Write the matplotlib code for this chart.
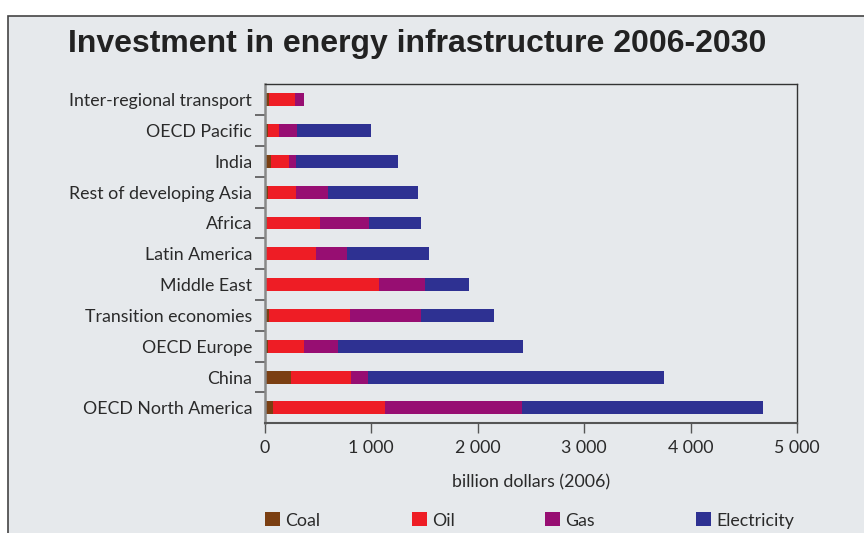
import numpy as np
import matplotlib.pyplot as plt
from matplotlib.patches import Rectangle

# regions, bottom to top as drawn
regions = ['OECD North America', 'China', 'OECD Europe', 'Transition economies',
           'Middle East', 'Latin America', 'Africa', 'Rest of developing Asia',
           'India', 'OECD Pacific', 'Inter-regional transport']

# billion dollars (2006)
coal = [78, 247, 28, 40, 8, 10, 20, 30, 61, 30, 42]
oil = [1054, 565, 342, 763, 1067, 474, 501, 266, 169, 106, 244]
gas = [1288, 160, 317, 667, 433, 291, 460, 297, 63, 169, 85]
electricity = [2258, 2775, 1743, 687, 414, 770, 485, 845, 957, 692, 0]

series = [('Coal', coal, '#7b3f12'), ('Oil', oil, '#ee1d25'),
          ('Gas', gas, '#970e72'), ('Electricity', electricity, '#2e3192')]

bg = '#e6e9ec'
font = 'Lato'
fs = 12.8

fig = plt.figure(figsize=(8.64, 5.33), dpi=100)
fig.patch.set_facecolor('white')
fig.patches.append(Rectangle((8 / 864, -0.1), 1.2, 1 - 16 / 533 + 0.1,
                             transform=fig.transFigure, facecolor=bg,
                             edgecolor='#444444', lw=1.2, zorder=-10))

ax = fig.add_axes([0.3064, 0.2058, 0.6161, 0.636])
ax.set_facecolor(bg)

y = np.arange(len(regions))
left = np.zeros(len(regions))
bars = []
for name, vals, col in series:
    bars.append(ax.barh(y, vals, left=left, height=0.42, color=col, label=name))
    left += np.array(vals)

ax.set_xlim(0, 5000)
ax.set_ylim(-0.5, len(regions) - 0.5)
ax.set_xticks(np.arange(0, 5001, 1000))
ax.set_xticklabels(['0', '1 000', '2 000', '3 000', '4 000', '5 000'],
                   fontfamily=font, fontsize=fs, color='#2a2a2a')
ax.set_yticks(y)
ax.set_yticklabels(regions, fontfamily=font, fontsize=fs, color='#2a2a2a')
ax.set_yticks(np.arange(0.5, len(regions) - 1, 1), minor=True)
ax.tick_params(axis='y', which='major', length=0, pad=9)
ax.tick_params(axis='y', which='minor', length=7, width=1.2, color='#555555')
ax.tick_params(axis='x', length=7, width=1, color='#555555', pad=5)

ax.spines['left'].set_color('#888888')
ax.spines['left'].set_linewidth(1.8)
ax.spines['bottom'].set_color('#555555')
ax.spines['bottom'].set_linewidth(1.5)
for s in ('top', 'right'):
    ax.spines[s].set_color('#333333')
    ax.spines[s].set_linewidth(1)

ax.set_xlabel('billion dollars (2006)', fontfamily=font, fontsize=fs,
              color='#2a2a2a', labelpad=13)

fig.text(0.483, 0.917, 'Investment in energy infrastructure 2006-2030',
         ha='center', va='center', fontfamily='Liberation Sans',
         fontweight='bold', fontsize=23, color='#222222')

# one legend entry per slot, spaced as in the original
legend_x = [265, 412, 545, 696]
for b, (name, _, _), lx in zip(bars, series, legend_x):
    leg = fig.legend([b], [name], loc='center left',
                     bbox_to_anchor=(lx / 864, 1 - 520.5 / 533),
                     frameon=False, prop={'family': font, 'size': fs},
                     borderpad=0, borderaxespad=0,
                     handlelength=0.82, handleheight=0.82, handletextpad=0.3)
    leg.get_texts()[0].set_color('#2a2a2a')

fig.savefig('out.png', dpi=100, facecolor=fig.get_facecolor())
